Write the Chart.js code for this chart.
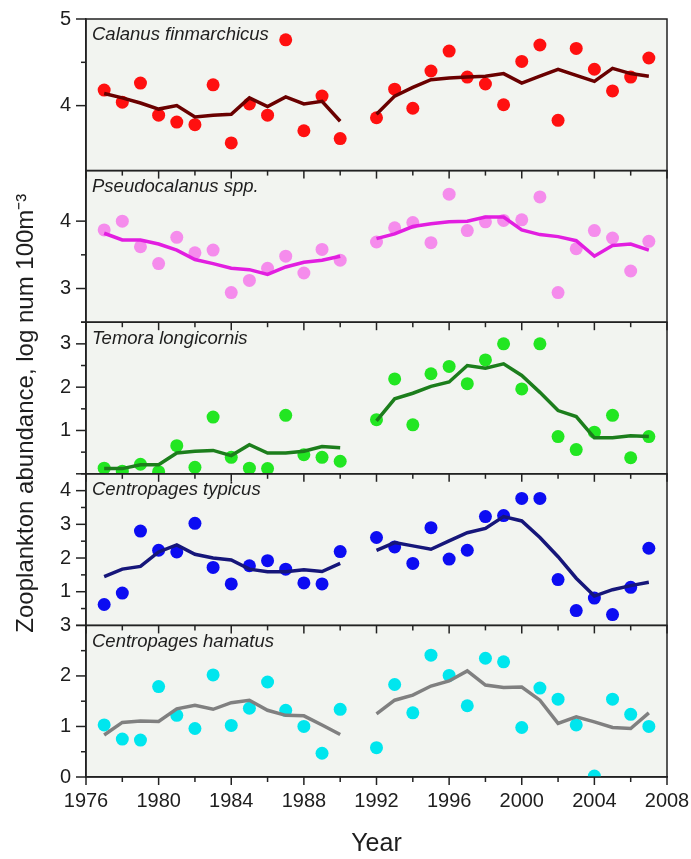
<!DOCTYPE html>
<html>
<head>
<meta charset="utf-8">
<script src="https://cdn.jsdelivr.net/npm/chart.js@4.4.1/dist/chart.umd.min.js"></script>
<style>
    html, body { margin: 0; padding: 0; background: #fff; }
    canvas { display: block; }
</style>
</head>
<body>
<canvas id="zooChart" width="691" height="859"></canvas>
<script>
// survey years, 1991 has no data (gap in every series)
const years = [1977, 1978, 1979, 1980, 1981, 1982, 1983, 1984, 1985, 1986, 1987, 1988, 1989, 1990, 1991,
    1992, 1993, 1994, 1995, 1996, 1997, 1998, 1999, 2000, 2001, 2002, 2003, 2004, 2005, 2006, 2007];

const calanusObs = [4.18, 4.04, 4.26, 3.89, 3.81, 3.78, 4.24, 3.57, 4.02, 3.89, 4.76, 3.71, 4.11, 3.62, null,
    3.86, 4.19, 3.97, 4.40, 4.63, 4.33, 4.25, 4.01, 4.51, 4.70, 3.83, 4.66, 4.42, 4.17, 4.33, 4.55];
const calanusTrend = [4.14, 4.09, 4.03, 3.96, 4.00, 3.87, 3.89, 3.90, 4.09, 3.99, 4.10, 4.02, 4.05, 3.82, null,
    3.90, 4.11, 4.21, 4.30, 4.32, 4.33, 4.34, 4.37, 4.26, 4.34, 4.42, 4.35, 4.28, 4.43, 4.37, 4.34];

const pseudoObs = [3.87, 4.00, 3.62, 3.37, 3.76, 3.53, 3.57, 2.94, 3.12, 3.30, 3.48, 3.23, 3.58, 3.42, null,
    3.69, 3.90, 3.98, 3.68, 4.40, 3.86, 3.99, 4.01, 4.02, 4.36, 2.94, 3.59, 3.86, 3.75, 3.26, 3.70];
const pseudoTrend = [3.82, 3.72, 3.72, 3.66, 3.57, 3.43, 3.37, 3.30, 3.28, 3.21, 3.32, 3.39, 3.42, 3.48, null,
    3.74, 3.81, 3.92, 3.96, 3.99, 4.00, 4.06, 4.06, 3.87, 3.80, 3.77, 3.71, 3.48, 3.64, 3.66, 3.57];

const temoraObs = [0.13, 0.06, 0.22, 0.05, 0.65, 0.15, 1.31, 0.38, 0.13, 0.12, 1.35, 0.44, 0.38, 0.29, null,
    1.25, 2.19, 1.13, 2.31, 2.48, 2.08, 2.63, 3.00, 1.96, 3.00, 0.86, 0.56, 0.96, 1.35, 0.37, 0.86];
const temoraTrend = [0.12, 0.12, 0.21, 0.21, 0.48, 0.52, 0.54, 0.42, 0.67, 0.48, 0.48, 0.52, 0.63, 0.60, null,
    1.22, 1.73, 1.86, 2.02, 2.12, 2.50, 2.44, 2.54, 2.27, 1.88, 1.46, 1.32, 0.83, 0.83, 0.88, 0.86];

const typicusObs = [0.62, 0.96, 2.80, 2.23, 2.18, 3.03, 1.72, 1.23, 1.77, 1.92, 1.67, 1.26, 1.23, 2.19, null,
    2.61, 2.33, 1.84, 2.90, 1.97, 2.23, 3.23, 3.26, 3.77, 3.77, 1.36, 0.44, 0.81, 0.32, 1.13, 2.29];
const typicusTrend = [1.45, 1.67, 1.75, 2.18, 2.39, 2.11, 2.00, 1.94, 1.67, 1.59, 1.59, 1.65, 1.60, 1.84, null,
    2.23, 2.46, 2.36, 2.26, 2.51, 2.75, 2.88, 3.23, 3.10, 2.61, 2.04, 1.40, 0.87, 1.06, 1.18, 1.28];

const hamatusObs = [1.03, 0.75, 0.73, 1.79, 1.22, 0.96, 2.02, 1.02, 1.36, 1.88, 1.32, 1.00, 0.47, 1.34, null,
    0.58, 1.83, 1.27, 2.41, 2.01, 1.41, 2.35, 2.28, 0.98, 1.76, 1.54, 1.03, 0.02, 1.54, 1.24, 1.00];
const hamatusTrend = [0.83, 1.08, 1.11, 1.10, 1.35, 1.42, 1.34, 1.47, 1.52, 1.32, 1.22, 1.21, 1.03, 0.84, null,
    1.25, 1.52, 1.62, 1.80, 1.90, 2.10, 1.82, 1.77, 1.78, 1.52, 1.06, 1.19, 1.09, 0.98, 0.96, 1.27];

const xTicks = { min: 1976, max: 2008, step: 2, labelEvery: 4 };
const yTitle = "Zooplankton abundance, log num 100m\u207B\u00B3";

const panels = [
    { id: "yCal", name: "Calanus finmarchicus", obs: calanusObs, trend: calanusTrend, dot: "#ff1010", line: "#6a0000", min: 3.25, max: 5, hideZero: false },
    { id: "yPse", name: "Pseudocalanus spp.", obs: pseudoObs, trend: pseudoTrend, dot: "#f58cec", line: "#e21ee0", min: 2.5, max: 4.75, hideZero: false },
    { id: "yTem", name: "Temora longicornis", obs: temoraObs, trend: temoraTrend, dot: "#22e622", line: "#1c7e1c", min: 0, max: 3.5, hideZero: true },
    { id: "yTyp", name: "Centropages typicus", obs: typicusObs, trend: typicusTrend, dot: "#0c0cf2", line: "#16167a", min: 0, max: 4.5, hideZero: true },
    { id: "yHam", name: "Centropages hamatus", obs: hamatusObs, trend: hamatusTrend, dot: "#00e6ee", line: "#808080", min: 0, max: 3, hideZero: false }
];

const textColor = "#1e1e1e";
const frameColor = "#222";
const fontFamily = '"Liberation Sans", Arial, sans-serif';
Chart.defaults.font.family = fontFamily;

const toPoints = (values) => years.map((year, i) => ({ x: year, y: values[i] }));
const isMultiple = (value, step) => Math.abs(value / step - Math.round(value / step)) < 1e-6;

const datasets = [];
panels.forEach((p) => {
    datasets.push({
        label: p.name + " trend",
        data: toPoints(p.trend),
        yAxisID: p.id,
        borderColor: p.line,
        borderWidth: 3.5,
        pointRadius: 0,
        tension: 0,
        spanGaps: false,
        order: 0
    });
    datasets.push({
        label: p.name,
        data: toPoints(p.obs),
        yAxisID: p.id,
        showLine: false,
        pointRadius: 6.5,
        pointBackgroundColor: p.dot,
        pointBorderWidth: 0,
        order: 1
    });
});

const scales = {
    x: {
        type: "linear",
        min: xTicks.min,
        max: xTicks.max,
        ticks: {
            stepSize: xTicks.step,
            autoSkip: false,
            maxRotation: 0,
            padding: 12,
            color: textColor,
            font: { size: 20 },
            callback: (value) => isMultiple(value, xTicks.labelEvery) ? String(value) : ""
        },
        grid: { display: false, drawTicks: false },
        border: { display: true, color: frameColor, width: 1.5 },
        title: { display: true, text: "Year", color: textColor, font: { size: 25 }, padding: { top: 4, bottom: 0 } },
        afterFit: (scale) => {
            scale.paddingLeft = 0;
            scale.paddingRight = 0;
        }
    }
};

panels.forEach((p, i) => {
    scales[p.id] = {
        type: "linear",
        position: "left",
        stack: "panels",
        stackWeight: 1,
        weight: panels.length - i,
        min: p.min,
        max: p.max,
        ticks: {
            stepSize: 0.5,
            autoSkip: false,
            padding: 15,
            color: textColor,
            font: { size: 20 },
            callback: (value) => {
                if (!isMultiple(value, 1)) return "";
                if (p.hideZero && Math.abs(value) < 1e-6) return "";
                return String(Math.round(value));
            }
        },
        grid: { display: false, drawTicks: false },
        border: { display: true, color: frameColor, width: 1.5 },
        afterFit: (scale) => {
            scale.width = 86;
            scale.paddingTop = 0;
            scale.paddingBottom = 0;
        }
    };
});

const panelFrames = {
    id: "panelFrames",
    beforeDraw(chart) {
        const { ctx, chartArea } = chart;
        ctx.save();
        ctx.fillStyle = "#f2f4f0";
        ctx.fillRect(chartArea.left, chartArea.top, chartArea.width, chartArea.height);
        ctx.restore();
    },
    beforeDatasetsDraw(chart) {
        const { ctx, chartArea } = chart;
        ctx.save();
        ctx.font = "italic 18.5px " + fontFamily;
        ctx.fillStyle = textColor;
        ctx.textBaseline = "top";
        panels.forEach((p) => {
            ctx.fillText(p.name, chartArea.left + 6, chart.scales[p.id].top + 7);
        });
        ctx.restore();
    },
    beforeDatasetDraw(chart, args) {
        // keep each species inside its own panel
        const { ctx, chartArea } = chart;
        const scale = chart.scales[args.meta.yAxisID];
        ctx.save();
        ctx.beginPath();
        ctx.rect(chartArea.left, scale.top, chartArea.width, scale.bottom - scale.top);
        ctx.clip();
    },
    afterDatasetDraw(chart) {
        chart.ctx.restore();
    },
    afterDraw(chart) {
        const { ctx, chartArea, scales } = chart;
        const xScale = scales.x;
        const line = (x1, y1, x2, y2) => {
            ctx.beginPath();
            ctx.moveTo(x1, y1);
            ctx.lineTo(x2, y2);
            ctx.stroke();
        };
        ctx.save();
        ctx.strokeStyle = frameColor;
        ctx.lineWidth = 1.5;
        panels.forEach((p) => {
            const s = scales[p.id];
            ctx.strokeRect(chartArea.left, s.top, chartArea.width, s.bottom - s.top);
            xScale.ticks.forEach((t) => {
                const x = xScale.getPixelForValue(t.value);
                line(x, s.bottom, x, s.bottom + (isMultiple(t.value, xTicks.labelEvery) ? 8 : 5));
            });
            s.ticks.forEach((t) => {
                if (!isMultiple(t.value, 0.5)) return;
                const y = s.getPixelForValue(t.value);
                line(chartArea.left - (isMultiple(t.value, 1) ? 10 : 5), y, chartArea.left, y);
            });
        });
        // shared y title, a little below the middle panel centre as in the source
        ctx.translate(26, chartArea.top + chartArea.height * 0.52);
        ctx.rotate(-Math.PI / 2);
        ctx.font = "24px " + fontFamily;
        ctx.fillStyle = textColor;
        ctx.textAlign = "center";
        ctx.textBaseline = "middle";
        ctx.fillText(yTitle, 0, 0);
        ctx.restore();
    }
};

new Chart(document.getElementById("zooChart"), {
    type: "line",
    data: { datasets },
    options: {
        responsive: false,
        devicePixelRatio: 1,
        animation: false,
        layout: { padding: { top: 19, right: 24, bottom: 0, left: 0 } },
        plugins: {
            legend: { display: false },
            tooltip: { enabled: false }
        },
        scales
    },
    plugins: [panelFrames]
});
</script>
</body>
</html>
